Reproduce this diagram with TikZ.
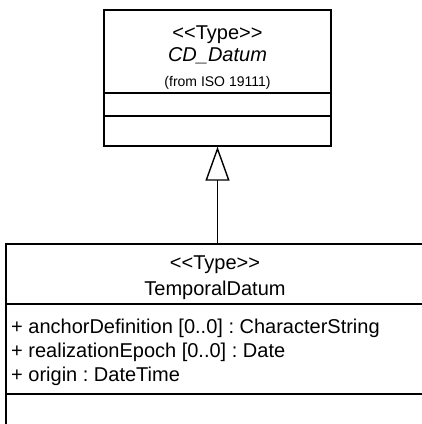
\documentclass[tikz,border=0pt]{standalone}
\usepackage{fontspec}
\setmainfont{Liberation Sans}
\usetikzlibrary{arrows.meta}

\newcommand{\stereotype}[1]{{<}{<}#1{>}{>}}

\tikzset{
    compartment/.style={draw, line width=1.4pt, inner sep=0pt},
    stereo/.style={anchor=base, inner sep=0pt, font=\fontsize{20}{24}\selectfont},
    member/.style={anchor=base west, inner sep=0pt, font=\fontsize{20}{24}\selectfont},
    generalization/.style={line width=1.4pt, -{Triangle[open, length=34pt, width=24pt, fill=white]}}
}

\begin{document}
\frenchspacing
\begin{tikzpicture}[x=1pt, y=-1pt]
    \useasboundingbox (0,0) rectangle (422,424);
    \clip (0,0) rectangle (422,424);

    % CD_Datum
    \node[compartment, minimum width=227pt, minimum height=83pt] (datumname) at (217.5,51.5) {};
    \node[compartment, minimum width=227pt, minimum height=23pt] (datumattr) at (217.5,104.5) {};
    \node[compartment, minimum width=227pt, minimum height=30pt] (datumops) at (217.5,131) {};
    \node[stereo] (datumtype) at (217.5,39) {\stereotype{Type}};
    \node[stereo] (datumtitle) at (217.5,61) {\itshape CD\_Datum};
    \node[stereo, font=\fontsize{14}{16}\selectfont] (datumfrom) at (217.5,86) {(from ISO 19111)};

    % TemporalDatum
    \node[compartment, minimum width=418pt, minimum height=60pt] (tdname) at (215,274) {};
    \node[compartment, minimum width=418pt, minimum height=90pt] (tdattr) at (215,349) {};
    \node[compartment, minimum width=418pt, minimum height=36pt] (tdops) at (215,412) {};
    \node[stereo] (tdtype) at (215,269) {\stereotype{Type}};
    \node[stereo] (tdtitle) at (215,295) {TemporalDatum};
    \node[member] (anchordef) at (11,333) {+ anchorDefinition [0..0] : CharacterString};
    \node[member] (realepoch) at (11,357) {+ realizationEpoch [0..0] : Date};
    \node[member] (origin) at (11,381) {+ origin : DateTime};

    % inheritance
    \draw[generalization] (tdname.north -| datumops.south) -- (datumops.south);
\end{tikzpicture}
\end{document}
